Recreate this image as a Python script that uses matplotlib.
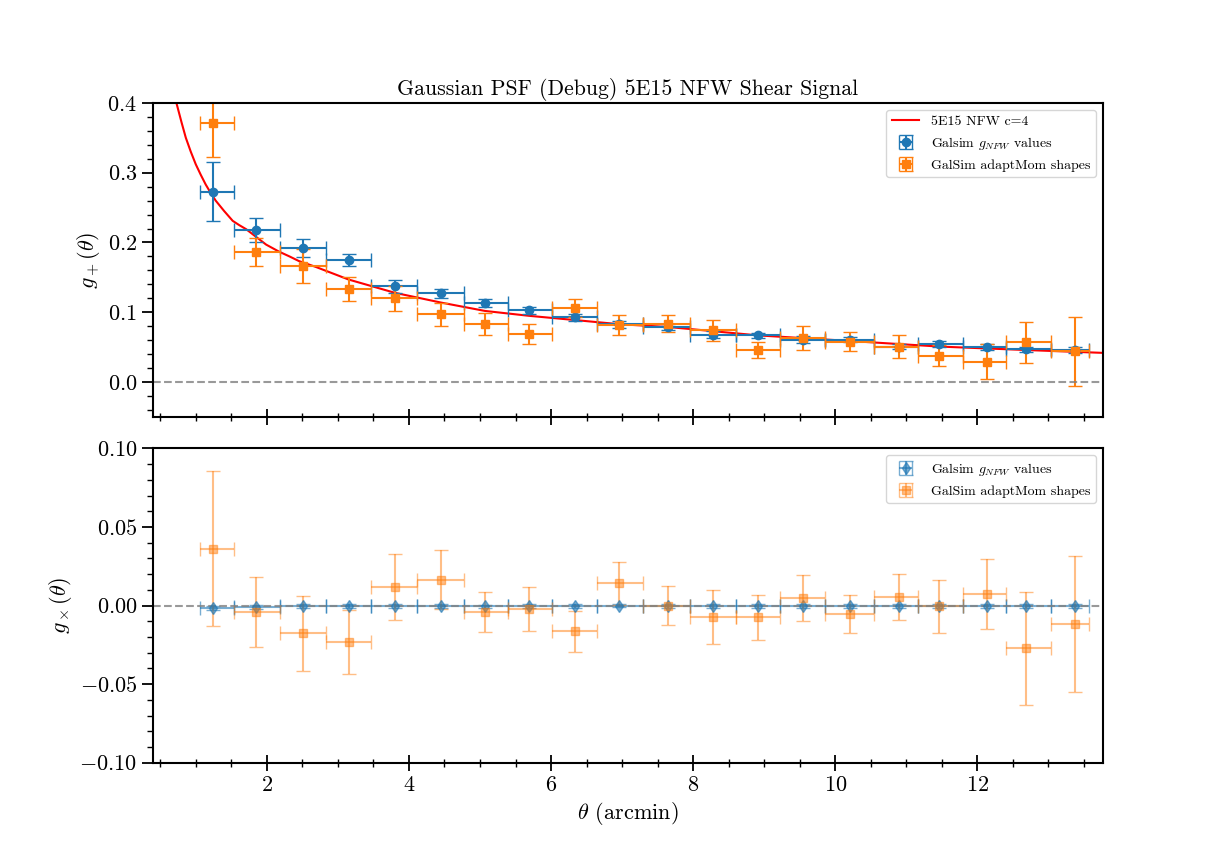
import numpy as np
import matplotlib
matplotlib.use("Agg")
import matplotlib.pyplot as plt

plt.rcParams['font.family'] = 'serif'
plt.rcParams['font.serif'] = ['cmr10', 'DejaVu Serif']
plt.rcParams['mathtext.fontset'] = 'cm'
plt.rcParams['axes.formatter.use_mathtext'] = True
plt.rcParams['axes.unicode_minus'] = True
plt.rcParams['font.size'] = 16

#%% data
theta = [1.24, 1.85, 2.51, 3.15, 3.80, 4.45, 5.07, 5.69, 6.33, 6.96,
         7.65, 8.28, 8.91, 9.54, 10.20, 10.90, 11.46, 12.14, 12.69, 13.37]
bin_lo = [1.06, 1.54, 2.18, 2.83, 3.46, 4.11, 4.77, 5.39, 6.01, 6.65,
          7.30, 7.95, 8.60, 9.22, 9.85, 10.54, 11.17, 11.79, 12.40, 13.03]
bin_hi = [1.54, 2.18, 2.83, 3.46, 4.11, 4.77, 5.39, 6.01, 6.65, 7.30,
          7.95, 8.60, 9.22, 9.85, 10.54, 11.17, 11.79, 12.40, 13.03, 13.57]

# tangential shear, GalSim input
gt_nfw = [0.273, 0.218, 0.192, 0.175, 0.137, 0.127, 0.113, 0.103, 0.093, 0.083,
          0.079, 0.068, 0.067, 0.061, 0.061, 0.051, 0.055, 0.050, 0.047, 0.046]
gt_nfw_err = [0.042, 0.017, 0.013, 0.008, 0.009, 0.006, 0.006, 0.005, 0.005, 0.005,
              0.005, 0.005, 0.004, 0.005, 0.004, 0.004, 0.004, 0.004, 0.004, 0.004]
# tangential shear, adaptMom shapes
gt_am = [0.371, 0.187, 0.166, 0.133, 0.120, 0.097, 0.083, 0.069, 0.106, 0.082,
         0.084, 0.074, 0.046, 0.063, 0.058, 0.051, 0.038, 0.029, 0.057, 0.044]
gt_am_err = [0.048, 0.020, 0.024, 0.017, 0.018, 0.016, 0.016, 0.015, 0.013, 0.014,
             0.012, 0.015, 0.012, 0.017, 0.014, 0.016, 0.015, 0.025, 0.029, 0.049]

# cross shear
gx_nfw = [-0.0014, -0.0008, -0.0004, -0.0004, -0.0003, -0.0002, -0.0005, -0.0004, -0.0002, 0.0000,
          -0.0002, -0.0002, -0.0002, -0.0002, -0.0002, -0.0002, -0.0002, -0.0002, -0.0002, -0.0002]
gx_nfw_err = [0.0012] * 20
gx_am = [0.0363, -0.0041, -0.0177, -0.0232, 0.0117, 0.0166, -0.0041, -0.0024, -0.0164, 0.0141,
         0.0000, -0.0073, -0.0073, 0.0048, -0.0054, 0.0056, -0.0005, 0.0073, -0.0272, -0.0119]
gx_am_err = [0.0495, 0.022, 0.024, 0.0205, 0.021, 0.019, 0.0127, 0.014, 0.013, 0.0137,
             0.0126, 0.017, 0.0143, 0.0148, 0.0123, 0.0145, 0.017, 0.0225, 0.036, 0.0433]

# NFW model curve (5E15, c=4), sampled from the figure
model_theta = [0.73, 0.80, 0.86, 0.93, 1.00, 1.07, 1.14, 1.21, 1.28, 1.40, 1.52, 1.61, 1.71,
               1.85, 1.99, 2.17, 2.32, 2.45, 2.69, 3.15, 3.80, 4.45, 5.07, 5.69, 6.33,
               6.96, 7.65, 8.91, 10.20, 11.46, 12.69, 13.75]
model_gt = [0.399, 0.372, 0.350, 0.330, 0.312, 0.297, 0.283, 0.271, 0.260, 0.245, 0.231,
            0.225, 0.219, 0.208, 0.197, 0.187, 0.180, 0.1735, 0.165, 0.147, 0.128, 0.114,
            0.102, 0.095, 0.089, 0.083, 0.079, 0.067, 0.059, 0.051, 0.046, 0.042]

#%% plot
theta = np.array(theta)
xerr = [theta - np.array(bin_lo), np.array(bin_hi) - theta]

fig, (ax1, ax2) = plt.subplots(2, 1, figsize=(12.25, 8.57), dpi=100, sharex=True)
fig.subplots_adjust(hspace=0.1)

ax1.plot(model_theta, model_gt, '-', color='red', lw=1.5, label='5E15 NFW c=4')
ax1.errorbar(theta, gt_nfw, yerr=gt_nfw_err, xerr=xerr, fmt='o', color='tab:blue',
             ms=6, capsize=5, elinewidth=1.5, label=r'Galsim $g_{NFW}$ values')
ax1.errorbar(theta, gt_am, yerr=gt_am_err, xerr=xerr, fmt='s', color='tab:orange',
             ms=6, capsize=5, elinewidth=1.5, label='GalSim adaptMom shapes')
ax1.axhline(0, ls='--', color='gray', alpha=0.8, lw=1.5)
ax1.set_ylim(-0.05, 0.4)
ax1.set_ylabel(r'$g_+(\theta)$')
ax1.set_title('Gaussian PSF (Debug) 5E15 NFW Shear Signal', fontsize=15.7)
ax1.legend(loc='upper right', fontsize=10)

ax2.errorbar(theta, gx_nfw, yerr=gx_nfw_err, xerr=xerr, fmt='d', color='tab:blue',
             ms=6, capsize=5, elinewidth=1.5, alpha=0.6, label=r'Galsim $g_{NFW}$ values')
ax2.errorbar(theta, gx_am, yerr=gx_am_err, xerr=xerr, fmt='s', color='tab:orange',
             ms=6, capsize=5, elinewidth=1.5, alpha=0.5, label='GalSim adaptMom shapes')
ax2.axhline(0, ls='--', color='gray', alpha=0.8, lw=1.5)
ax2.set_ylim(-0.1, 0.1)
ax2.set_ylabel(r'$g_\times(\theta)$')
ax2.set_xlabel(r'$\theta$ (arcmin)')
ax2.legend(loc='upper right', fontsize=10)

ax2.set_xlim(0.4, 13.76)
ax1.set_yticks([0.0, 0.1, 0.2, 0.3, 0.4])
ax1.set_yticks(np.arange(-0.04, 0.4, 0.02), minor=True)
ax2.set_yticks([-0.1, -0.05, 0.0, 0.05, 0.1])
ax2.set_yticks(np.arange(-0.1, 0.1, 0.01), minor=True)
ax2.set_xticks([2, 4, 6, 8, 10, 12])
ax2.set_xticks(np.arange(0.5, 13.6, 0.5), minor=True)

for ax in (ax1, ax2):
    for s in ax.spines.values():
        s.set_linewidth(1.5)
    ax.tick_params(axis='y', which='major', direction='out', length=8, width=1.3)
    ax.tick_params(axis='y', which='minor', direction='out', length=4, width=1.0)
    ax.tick_params(axis='x', which='major', direction='inout', length=11, width=1.3)
    ax.tick_params(axis='x', which='minor', direction='inout', length=6, width=1.0)

fig.savefig('out.png', dpi=100)
